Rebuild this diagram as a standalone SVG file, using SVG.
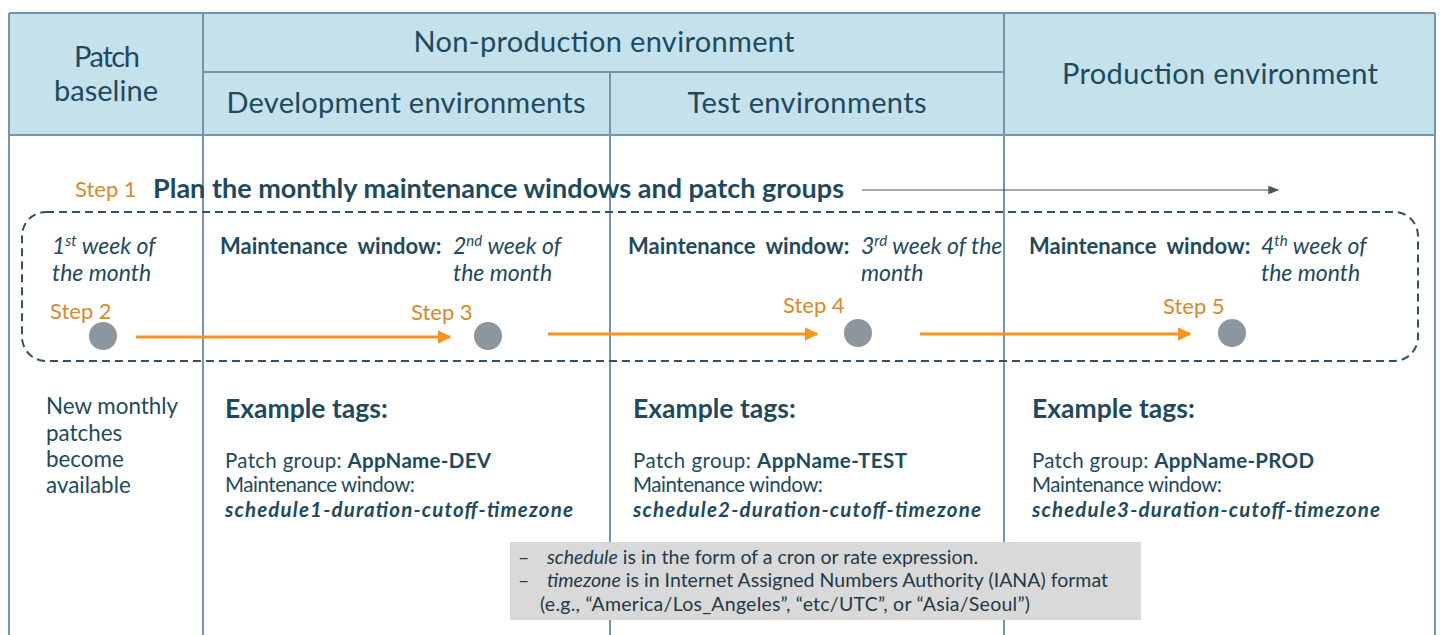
<svg xmlns="http://www.w3.org/2000/svg" width="1440" height="635" viewBox="0 0 1440 635">
<defs>
<marker id="arrO" viewBox="0 0 10 10" refX="9" refY="5" markerWidth="4.5" markerHeight="4.5" orient="auto" markerUnits="strokeWidth"><path d="M0,0 L10,5 L0,10 z" fill="#F7941D"/></marker>
<marker id="arrG" viewBox="0 0 10 10" refX="9" refY="5" markerWidth="9" markerHeight="9" orient="auto" markerUnits="strokeWidth"><path d="M0,1 L10,5 L0,9 z" fill="#4A5560"/></marker>
<style>
text{font-family:Lato,"Noto Sans","Liberation Sans",sans-serif;fill:#1E4A60}
.hd{font-size:29px}
.st{font-size:22px;fill:#D9892A}
.it{font-style:italic;font-size:23px}
.sup{font-size:15px}
.mw{font-weight:bold;font-size:22px;word-spacing:5px}
.ex{font-weight:bold;font-size:26.5px}
.tg{font-size:20.5px}
.b{font-weight:bold}
.bi{font-weight:bold;font-style:italic}
.nb{font-size:22.4px}
.nt{font-size:19.5px;fill:#1E3A4A}
.ln{stroke:#7595AB;stroke-width:2;fill:none}
.dot{fill:#8C969F}
.oa{stroke:#F7941D;stroke-width:3;fill:none;marker-end:url(#arrO)}
</style>
</defs>
<rect width="1440" height="635" fill="#fff"/>
<g id="table">
<rect x="9" y="13" width="1426" height="122" fill="#C4E1EC"/>
<path class="ln" d="M9,13 H1435 M9,135 H1435 M203,72 H1004 M9,13 V635 M1435,13 V635 M203,13 V635 M610,72 V635 M1004,13 V635"/>
</g>
<g id="headers">
<text class="hd" x="107" y="67" text-anchor="middle" textLength="66">Patch</text>
<text class="hd" x="106" y="101" text-anchor="middle" textLength="104">baseline</text>
<text class="hd" x="604" y="52" text-anchor="middle" textLength="381">Non-production environment</text>
<text class="hd" x="406" y="113" text-anchor="middle" textLength="359">Development environments</text>
<text class="hd" x="807" y="113" text-anchor="middle" textLength="239">Test environments</text>
<text class="hd" x="1220" y="84" text-anchor="middle" textLength="316">Production environment</text>
</g>
<g id="step1">
<text class="st" x="75" y="197">Step 1</text>
<text class="b" x="153" y="198" font-size="27" textLength="691">Plan the monthly maintenance windows and patch groups</text>
</g>
<g id="window-box">
<rect x="22" y="212" width="1396" height="149" rx="24" fill="none" stroke="#2F5169" stroke-width="2" stroke-dasharray="8 5"/>
</g>
<g id="step2">
<text class="it" x="52" y="254">1<tspan class="sup" dy="-8">st</tspan><tspan dy="8"> week of</tspan></text>
<text class="it" x="52" y="281">the month</text>
<text class="st" x="50" y="319">Step 2</text>
<circle class="dot" cx="103" cy="336" r="14"/>
</g>
<g id="step3">
<text class="mw" x="220" y="254">Maintenance window:</text>
<text class="it" x="453" y="254">2<tspan class="sup" dy="-8">nd</tspan><tspan dy="8"> week of</tspan></text>
<text class="it" x="453" y="281">the month</text>
<text class="st" x="411" y="320">Step 3</text>
<circle class="dot" cx="488" cy="336" r="14"/>
</g>
<g id="step4">
<text class="mw" x="628" y="254">Maintenance window:</text>
<text class="it" x="861" y="254">3<tspan class="sup" dy="-8">rd</tspan><tspan dy="8"> week of the</tspan></text>
<text class="it" x="861" y="281">month</text>
<text class="st" x="783" y="313">Step 4</text>
<circle class="dot" cx="858" cy="333" r="14"/>
</g>
<g id="step5">
<text class="mw" x="1029" y="254">Maintenance window:</text>
<text class="it" x="1261" y="254">4<tspan class="sup" dy="-8">th</tspan><tspan dy="8"> week of</tspan></text>
<text class="it" x="1261" y="281">the month</text>
<text class="st" x="1163" y="314">Step 5</text>
<circle class="dot" cx="1232" cy="333" r="14"/>
</g>
<g id="connectors">
<line x1="862" y1="190" x2="1278" y2="190" stroke="#4A5560" stroke-width="1.2" marker-end="url(#arrG)"/>
<line class="oa" x1="136" y1="337" x2="450" y2="337"/>
<line class="oa" x1="548" y1="334" x2="817" y2="334"/>
<line class="oa" x1="920" y1="334" x2="1190" y2="334"/>
</g>
<g id="baseline-note">
<text class="nb" x="46" y="414">New monthly</text>
<text class="nb" x="46" y="441">patches</text>
<text class="nb" x="46" y="467">become</text>
<text class="nb" x="46" y="493">available</text>
</g>
<g id="tags-dev">
<text class="ex" x="225" y="418">Example tags:</text>
<text class="tg" x="225" y="468" textLength="266">Patch group: <tspan class="b">AppName-DEV</tspan></text>
<text class="tg" x="225" y="492" textLength="190">Maintenance window:</text>
<text class="tg bi" x="225" y="517" textLength="348">schedule1-duration-cutoff-timezone</text>
</g>
<g id="tags-test">
<text class="ex" x="633" y="418">Example tags:</text>
<text class="tg" x="633" y="468" textLength="274">Patch group: <tspan class="b">AppName-TEST</tspan></text>
<text class="tg" x="633" y="492" textLength="190">Maintenance window:</text>
<text class="tg bi" x="633" y="517" textLength="348">schedule2-duration-cutoff-timezone</text>
</g>
<g id="tags-prod">
<text class="ex" x="1032" y="418">Example tags:</text>
<text class="tg" x="1032" y="468" textLength="282">Patch group: <tspan class="b">AppName-PROD</tspan></text>
<text class="tg" x="1032" y="492" textLength="190">Maintenance window:</text>
<text class="tg bi" x="1032" y="517" textLength="348">schedule3-duration-cutoff-timezone</text>
</g>
<g id="note">
<rect x="510" y="542" width="631" height="78" fill="#D9D9D9"/>
<text class="nt" x="518" y="564">–</text>
<text class="nt" x="547" y="564" textLength="431"><tspan font-style="italic">schedule</tspan> is in the form of a cron or rate expression.</text>
<text class="nt" x="518" y="587">–</text>
<text class="nt" x="547" y="587" textLength="561"><tspan font-style="italic">timezone</tspan> is in Internet Assigned Numbers Authority (IANA) format</text>
<text class="nt" x="540" y="611" textLength="490">(e.g., “America/Los_Angeles”,  “etc/UTC”, or “Asia/Seoul”)</text>
</g>
</svg>
